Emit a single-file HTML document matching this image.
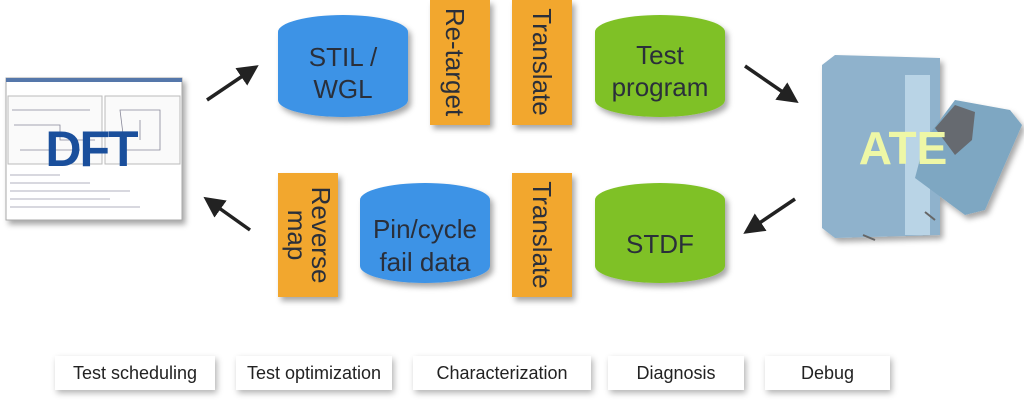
<!DOCTYPE html>
<html><head><style>
body{margin:0;background:#fff;width:1024px;height:402px;overflow:hidden;font-family:"Liberation Sans",sans-serif}
.lab{position:absolute;top:356px;height:34px;background:#fff;box-shadow:2px 3px 6px rgba(0,0,0,.3);font-size:18px;color:#222;display:flex;align-items:center;justify-content:center}
</style></head><body>
<svg width="1024" height="402" style="position:absolute;left:0;top:0">
<defs>
<filter id="sh" x="-20%" y="-20%" width="150%" height="150%"><feDropShadow dx="3" dy="4" stdDeviation="3" flood-opacity="0.35"/></filter>
<marker id="ah" markerWidth="6" markerHeight="6" refX="3" refY="3" orient="auto"><path d="M0,0 L6,3 L0,6 Z" fill="#222"/></marker>
</defs>
<!-- DFT screenshot -->
<g filter="url(#sh)">
<rect x="6" y="78" width="176" height="142" fill="#fff" stroke="#aaa"/>
</g>
<rect x="6" y="78" width="176" height="4" fill="#5577aa"/>
<rect x="8" y="96" width="94" height="68" fill="#fafafa" stroke="#bbb"/>
<rect x="105" y="96" width="75" height="68" fill="#fafafa" stroke="#bbb"/>
<g stroke="#889" stroke-width="0.8" fill="none">
<path d="M12,110 H90 M14,125 H60 V140 H95 M20,150 H80 M120,110 H160 V150 H125 Z M140,120 V140"/>
</g>
<g stroke="#99a" stroke-width="0.7">
<line x1="10" y1="175" x2="60" y2="175"/><line x1="10" y1="183" x2="90" y2="183"/><line x1="10" y1="191" x2="130" y2="191"/><line x1="10" y1="199" x2="110" y2="199"/><line x1="10" y1="207" x2="140" y2="207"/>
</g>
<text x="91" y="166" text-anchor="middle" font-size="50" font-weight="bold" fill="#1a4f9c" font-family="Liberation Sans" letter-spacing="-2">DFT</text>
<!-- arrows -->
<g stroke="#222" stroke-width="3.5" marker-end="url(#ah)">
<line x1="207" y1="100" x2="250" y2="71"/>
<line x1="745" y1="66" x2="790" y2="97"/>
<line x1="795" y1="199" x2="752" y2="228"/>
<line x1="250" y1="230" x2="212" y2="203"/>
</g>
<!-- cylinders -->
<g filter="url(#sh)">
<path d="M278,32 A65,17 0 0 1 408,32 V100 A65,17 0 0 1 278,100 Z" fill="#3d93e6"/>
<path d="M595,32 A65,17 0 0 1 725,32 V100 A65,17 0 0 1 595,100 Z" fill="#7fc128"/>
<path d="M360,200 A65,17 0 0 1 490,200 V266 A65,17 0 0 1 360,266 Z" fill="#3d93e6"/>
<path d="M595,200 A65,17 0 0 1 725,200 V266 A65,17 0 0 1 595,266 Z" fill="#7fc128"/>
<rect x="430" y="0" width="60" height="125" fill="#f2a72e"/>
<rect x="512" y="0" width="60" height="125" fill="#f2a72e"/>
<rect x="278" y="173" width="60" height="124" fill="#f2a72e"/>
<rect x="512" y="173" width="60" height="124" fill="#f2a72e"/>
</g>
<g font-size="26" fill="#2a2f3a" text-anchor="middle" font-family="Liberation Sans">
<text x="343" y="66">STIL /</text><text x="343" y="98">WGL</text>
<text x="660" y="64">Test</text><text x="660" y="96">program</text>
<text x="425" y="238">Pin/cycle</text><text x="425" y="271">fail data</text>
<text x="660" y="253">STDF</text>
<text transform="translate(446,62) rotate(90)">Re-target</text>
<text transform="translate(533,62) rotate(90)">Translate</text>
<text transform="translate(533,235) rotate(90)">Translate</text>
<text transform="translate(312,235) rotate(90)">Reverse</text>
<text transform="translate(288,235) rotate(90)">map</text>
</g>
<!-- ATE machine -->
<g filter="url(#sh)">
<path d="M822,65 L835,55 L940,58 L940,235 L835,238 L822,228 Z" fill="#8fb2cc"/>
<rect x="905" y="75" width="25" height="160" fill="#b9d4e6"/>
<path d="M925,140 L955,100 L1010,110 L1022,125 L985,210 L965,215 L915,178 Z" fill="#7ea7c2"/>
<path d="M935,128 L955,105 L975,112 L972,140 L955,155 Z" fill="#666b70"/>
</g>
<line x1="863" y1="235" x2="875" y2="240" stroke="#666" stroke-width="2"/>
<line x1="925" y1="212" x2="935" y2="220" stroke="#666" stroke-width="2"/>
<text x="903" y="164" text-anchor="middle" font-size="46" font-weight="bold" fill="#eef7a6" font-family="Liberation Sans">ATE</text>
</svg>
<div class="lab" style="left:55px;width:160px">Test scheduling</div>
<div class="lab" style="left:236px;width:156px">Test optimization</div>
<div class="lab" style="left:413px;width:178px">Characterization</div>
<div class="lab" style="left:608px;width:136px">Diagnosis</div>
<div class="lab" style="left:765px;width:125px">Debug</div>
</body></html>
